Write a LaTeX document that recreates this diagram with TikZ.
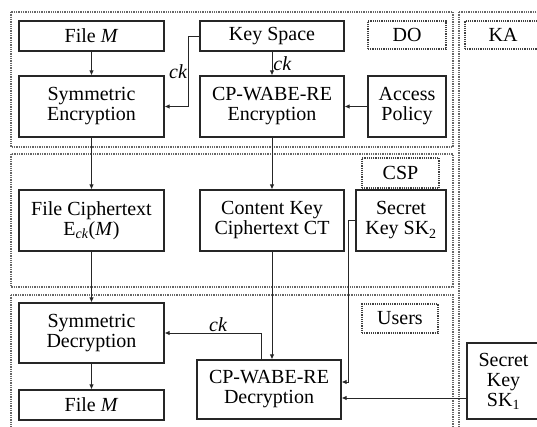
\documentclass[tikz,border=0pt]{standalone}
\usepackage{fontspec}
\setmainfont{Liberation Serif}
\usetikzlibrary{arrows.meta}

\begin{document}
\begin{tikzpicture}[x=1pt,y=-1pt,
		box/.style={draw=black!85,line width=1.2pt,align=center,inner sep=0pt,font=\fontsize{20}{20}\selectfont},
		tag/.style={draw=black!75,densely dotted,line width=1.2pt,inner sep=0pt,font=\fontsize{20}{20}\selectfont},
		panel/.style={draw=black!60,densely dotted,line width=1.3pt},
		arr/.style={draw=black!85,line width=0.9pt,-{Latex[length=5pt,width=4.5pt]}},
		lbl/.style={font=\fontsize{20}{20}\selectfont\itshape,inner sep=1pt}]
		\useasboundingbox (0,0) rectangle (537,426);
		\foreach \t/\b in {12/147,154/287,295/432}{
			\draw[panel] (11,\t) rectangle (453,\b);
		}
		\draw[panel] (459,12) rectangle (548,432);
		\node[tag,minimum width=78,minimum height=28] (do) at (407,35) {DO};
		\node[tag,minimum width=76,minimum height=28] (ka) at (503,35) {KA};
		\node[tag,minimum width=77,minimum height=30] (csp) at (400.5,173) {CSP};
		\node[tag,minimum width=76,minimum height=29] (users) at (400,318.5) {Users};
		\node[box,minimum width=145,minimum height=30] (fileM) at (91.5,36) {File \textit{M}};
		\node[box,minimum width=144,minimum height=30] (keyspace) at (272,36) {Key Space};
		\node[box,minimum width=145,minimum height=61] (symenc) at (91.5,106.5) {Symmetric\\Encryption};
		\node[box,minimum width=144,minimum height=61] (cpenc) at (272,106.5) {CP-WABE-RE\\Encryption};
		\node[box,minimum width=78,minimum height=61] (policy) at (407,106.5) {Access\\Policy};
		\node[box,minimum width=145,minimum height=61] (fct) at (91.5,220.5) {File Ciphertext\\E\textsubscript{\textit{ck}}(\textit{M})};
		\node[box,minimum width=144,minimum height=61] (ckct) at (272,220.5) {Content Key\\Ciphertext CT};
		\node[box,minimum width=90,minimum height=61] (sk2) at (401,220.5) {Secret\\Key SK\textsubscript{2}};
		\node[box,minimum width=145,minimum height=60] (symdec) at (91.5,333) {Symmetric\\Decryption};
		\node[box,minimum width=145,minimum height=30] (fileMout) at (91.5,405) {File \textit{M}};
		\node[box,minimum width=144,minimum height=59] (cpdec) at (269,389.5) {CP-WABE-RE\\Decryption};
		\node[box,minimum width=73,minimum height=76] (sk1) at (503.5,381) {Secret\\Key\\SK\textsubscript{1}};
		\coordinate (kbend) at (188,36);
		\coordinate (ckup) at (261,333);
		\coordinate (skbend) at (348,382);
		\coordinate (skin) at (467,398);
		\draw[arr] (fileM) -- (symenc);
		\draw[arr] (keyspace.west) -- (kbend) |- (symenc.east);
		\node[lbl] (ckenc) at (178,72) {ck};
		\draw[arr] (keyspace) -- node[lbl,right] (ckcp) {ck} (cpenc);
		\draw[arr] (policy) -- (cpenc);
		\draw[arr] (symenc) -- (fct);
		\draw[arr] (cpenc) -- (ckct);
		\draw[arr] (fct) -- (symdec);
		\draw[arr] (ckct.south) -- (ckct.south |- cpdec.north);
		\draw[arr] (cpdec.north -| ckup) |- (symdec.east);
		\node[lbl] (ckdec) at (218,325) {ck};
		\draw[arr] (sk2.west) -| (skbend) -- (cpdec.east |- skbend);
		\draw[arr] (sk1.west |- skin) -- (cpdec.east |- skin);
		\draw[arr] (symdec) -- (fileMout);
	\end{tikzpicture}
\end{document}
